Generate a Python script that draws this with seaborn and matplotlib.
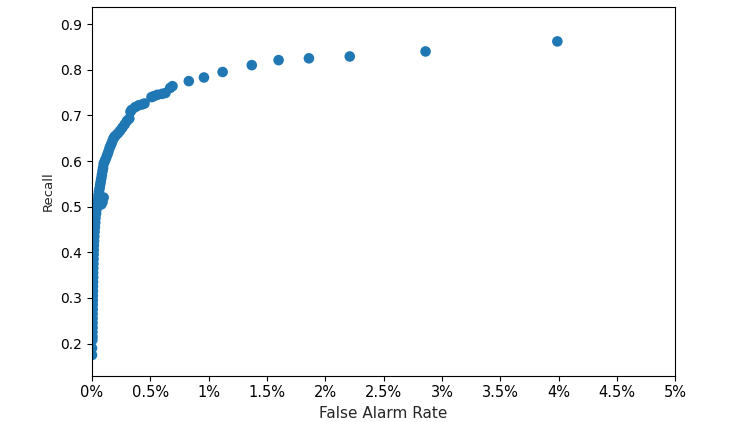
import numpy as np
import pandas as pd
import matplotlib
matplotlib.use("Agg")
import matplotlib.pyplot as plt
from matplotlib.ticker import FuncFormatter
import seaborn as sns

# false alarm rate in percent, recall
far_pct = [3.99, 2.86, 2.21, 1.86, 1.60, 1.37, 1.12, 0.96, 0.83, 0.69, 0.67, 0.63,
           0.60, 0.56, 0.53, 0.51, 0.45, 0.43, 0.40, 0.37, 0.34, 0.33, 0.32, 0.30,
           0.28, 0.26, 0.24, 0.22, 0.20, 0.19, 0.18, 0.17, 0.16, 0.15, 0.14, 0.13,
           0.12, 0.11, 0.10, 0.095, 0.09, 0.085, 0.08, 0.075, 0.07, 0.065, 0.06,
           0.10, 0.09, 0.08, 0.055, 0.05, 0.045, 0.04, 0.035, 0.03, 0.028, 0.025,
           0.022, 0.02, 0.018, 0.016, 0.015, 0.014, 0.013, 0.012, 0.011, 0.01,
           0.01, 0.009, 0.008, 0.008, 0.007, 0.007, 0.006, 0.006, 0.005, 0.005,
           0.005, 0.005, 0.004, 0.004, 0.003, 0.0, 0.0]
recall = [0.862, 0.840, 0.829, 0.825, 0.821, 0.810, 0.795, 0.783, 0.775, 0.764, 0.760, 0.749,
          0.747, 0.745, 0.742, 0.740, 0.726, 0.724, 0.722, 0.718, 0.712, 0.708, 0.693, 0.688,
          0.680, 0.673, 0.666, 0.660, 0.655, 0.652, 0.647, 0.640, 0.634, 0.628, 0.620, 0.613,
          0.606, 0.600, 0.594, 0.585, 0.578, 0.570, 0.562, 0.555, 0.548, 0.540, 0.533,
          0.520, 0.510, 0.505, 0.525, 0.515, 0.505, 0.495, 0.485, 0.475, 0.465, 0.455,
          0.445, 0.435, 0.425, 0.415, 0.405, 0.395, 0.385, 0.375, 0.365, 0.355,
          0.345, 0.335, 0.325, 0.315, 0.305, 0.295, 0.285, 0.275, 0.265, 0.255,
          0.245, 0.235, 0.225, 0.215, 0.208, 0.190, 0.175]

df = pd.DataFrame({"far": np.array(far_pct) / 100, "recall": recall})

sns.set_style("ticks")
plt.rcParams["font.family"] = ["DejaVu Sans"]

fig = plt.figure(figsize=(7.51, 4.22), dpi=100)
ax = fig.add_axes([0.1225, 0.110, 0.7765, 0.873])
sns.scatterplot(data=df, x="far", y="recall", ax=ax, color="#1f77b4",
                s=58, edgecolor="none", linewidth=0)

ax.set_xlim(0, 0.05)
ax.set_ylim(0.13, 0.937)
ax.set_xticks(np.arange(0, 0.0501, 0.005))
ax.xaxis.set_major_formatter(FuncFormatter(lambda v, p: "{:g}%".format(round(v * 100, 2))))
ax.set_yticks([0.2, 0.3, 0.4, 0.5, 0.6, 0.7, 0.8, 0.9])
ax.tick_params(axis="x", labelsize=10.5, length=3.5, width=0.8, colors="black")
ax.tick_params(axis="y", labelsize=10, length=3.5, width=0.8, colors="black")
for sp in ax.spines.values():
    sp.set_color("black")
    sp.set_linewidth(0.8)
ax.set_xlabel("False Alarm Rate", fontsize=11)
ax.set_ylabel("Recall", fontsize=9.5)

fig.savefig("out.png", dpi=100)
